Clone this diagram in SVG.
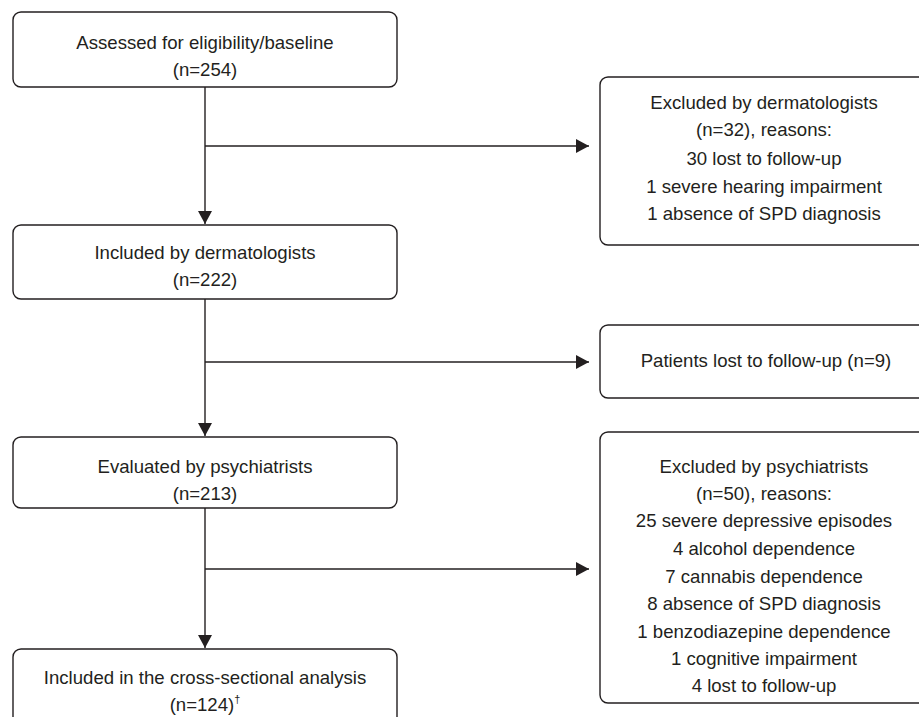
<svg xmlns="http://www.w3.org/2000/svg" width="919" height="717" viewBox="0 0 919 717">
<style>
.box{fill:#fff;stroke:#231f20;stroke-width:1.4}
.t{font-family:"Liberation Sans",Arial,sans-serif;font-size:18.6px;fill:#231f20;text-anchor:middle}
.ln{stroke:#231f20;stroke-width:1.4;fill:none}
</style>
<defs>
<marker id="ah" markerWidth="14" markerHeight="14" refX="13" refY="7" orient="auto" markerUnits="userSpaceOnUse">
<path d="M0,0 L13,7 L0,14 Z" fill="#231f20"/>
</marker>
</defs>
<rect width="919" height="717" fill="#fff"/>
<g id="connectors">
<line class="ln" x1="205" y1="87" x2="205" y2="224" marker-end="url(#ah)"/>
<line class="ln" x1="205" y1="146" x2="589" y2="146" marker-end="url(#ah)"/>
<line class="ln" x1="205" y1="299" x2="205" y2="436" marker-end="url(#ah)"/>
<line class="ln" x1="205" y1="362" x2="589" y2="362" marker-end="url(#ah)"/>
<line class="ln" x1="205" y1="508" x2="205" y2="648" marker-end="url(#ah)"/>
<line class="ln" x1="205" y1="569" x2="589" y2="569" marker-end="url(#ah)"/>
</g>
<g id="n1">
<rect class="box" x="13" y="12" width="384" height="75" rx="8"/>
<text class="t" x="205" y="49">Assessed for eligibility/baseline</text>
<text class="t" x="205" y="76">(n=254)</text>
</g>
<g id="n2">
<rect class="box" x="13" y="225" width="384" height="74" rx="8"/>
<text class="t" x="205" y="259">Included by dermatologists</text>
<text class="t" x="205" y="286">(n=222)</text>
</g>
<g id="n3">
<rect class="box" x="13" y="437" width="384" height="71" rx="8"/>
<text class="t" x="205" y="473">Evaluated by psychiatrists</text>
<text class="t" x="205" y="500">(n=213)</text>
</g>
<g id="n4">
<rect class="box" x="13" y="649" width="384" height="90" rx="8"/>
<text class="t" x="205" y="684">Included in the cross-sectional analysis</text>
<text class="t" x="205" y="711">(n=124)<tspan font-size="11" dy="-8">†</tspan></text>
</g>
<g id="r1">
<rect class="box" x="600" y="77" width="330" height="168" rx="8"/>
<text class="t" x="764" y="109">Excluded by dermatologists</text>
<text class="t" x="764" y="136">(n=32), reasons:</text>
<text class="t" x="764" y="165">30 lost to follow-up</text>
<text class="t" x="764" y="193">1 severe hearing impairment</text>
<text class="t" x="764" y="220">1 absence of SPD diagnosis</text>
</g>
<g id="r2">
<rect class="box" x="600" y="325" width="330" height="73" rx="8"/>
<text class="t" x="766" y="367">Patients lost to follow-up (n=9)</text>
</g>
<g id="r3">
<rect class="box" x="600" y="432" width="330" height="271" rx="8"/>
<text class="t" x="764" y="473">Excluded by psychiatrists</text>
<text class="t" x="764" y="500">(n=50), reasons:</text>
<text class="t" x="764" y="527">25 severe depressive episodes</text>
<text class="t" x="764" y="555">4 alcohol dependence</text>
<text class="t" x="764" y="583">7 cannabis dependence</text>
<text class="t" x="764" y="610">8 absence of SPD diagnosis</text>
<text class="t" x="764" y="638">1 benzodiazepine dependence</text>
<text class="t" x="764" y="665">1 cognitive impairment</text>
<text class="t" x="764" y="692">4 lost to follow-up</text>
</g>
</svg>
